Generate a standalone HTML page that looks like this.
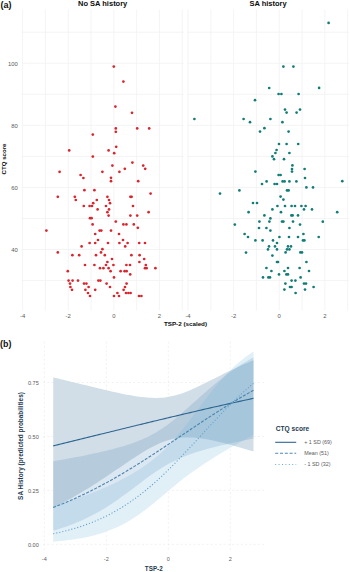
<!DOCTYPE html>
<html><head><meta charset="utf-8"><style>
html,body{margin:0;padding:0;background:#fff;width:350px;height:572px;overflow:hidden}
svg{display:block}
</style></head><body>
<svg width="350" height="572" viewBox="0 0 350 572">
<rect width="350" height="572" fill="#fff"/>
<line x1="22.60" y1="9.5" x2="22.60" y2="310.5" stroke="#f1f1f1" stroke-width="0.8"/>
<line x1="45.40" y1="9.5" x2="45.40" y2="310.5" stroke="#f1f1f1" stroke-width="0.8"/>
<line x1="68.20" y1="9.5" x2="68.20" y2="310.5" stroke="#f1f1f1" stroke-width="0.8"/>
<line x1="91.00" y1="9.5" x2="91.00" y2="310.5" stroke="#f1f1f1" stroke-width="0.8"/>
<line x1="113.80" y1="9.5" x2="113.80" y2="310.5" stroke="#f1f1f1" stroke-width="0.8"/>
<line x1="136.60" y1="9.5" x2="136.60" y2="310.5" stroke="#f1f1f1" stroke-width="0.8"/>
<line x1="159.40" y1="9.5" x2="159.40" y2="310.5" stroke="#f1f1f1" stroke-width="0.8"/>
<line x1="182.20" y1="9.5" x2="182.20" y2="310.5" stroke="#f1f1f1" stroke-width="0.8"/>
<line x1="21.6" y1="280.52" x2="183.7" y2="280.52" stroke="#f1f1f1" stroke-width="0.8"/>
<line x1="21.6" y1="249.48" x2="183.7" y2="249.48" stroke="#f1f1f1" stroke-width="0.8"/>
<line x1="21.6" y1="218.44" x2="183.7" y2="218.44" stroke="#f1f1f1" stroke-width="0.8"/>
<line x1="21.6" y1="187.40" x2="183.7" y2="187.40" stroke="#f1f1f1" stroke-width="0.8"/>
<line x1="21.6" y1="156.36" x2="183.7" y2="156.36" stroke="#f1f1f1" stroke-width="0.8"/>
<line x1="21.6" y1="125.32" x2="183.7" y2="125.32" stroke="#f1f1f1" stroke-width="0.8"/>
<line x1="21.6" y1="94.28" x2="183.7" y2="94.28" stroke="#f1f1f1" stroke-width="0.8"/>
<line x1="21.6" y1="63.24" x2="183.7" y2="63.24" stroke="#f1f1f1" stroke-width="0.8"/>
<line x1="21.6" y1="32.20" x2="183.7" y2="32.20" stroke="#f1f1f1" stroke-width="0.8"/>
<line x1="188.00" y1="9.5" x2="188.00" y2="310.5" stroke="#f1f1f1" stroke-width="0.8"/>
<line x1="210.80" y1="9.5" x2="210.80" y2="310.5" stroke="#f1f1f1" stroke-width="0.8"/>
<line x1="233.60" y1="9.5" x2="233.60" y2="310.5" stroke="#f1f1f1" stroke-width="0.8"/>
<line x1="256.40" y1="9.5" x2="256.40" y2="310.5" stroke="#f1f1f1" stroke-width="0.8"/>
<line x1="279.20" y1="9.5" x2="279.20" y2="310.5" stroke="#f1f1f1" stroke-width="0.8"/>
<line x1="302.00" y1="9.5" x2="302.00" y2="310.5" stroke="#f1f1f1" stroke-width="0.8"/>
<line x1="324.80" y1="9.5" x2="324.80" y2="310.5" stroke="#f1f1f1" stroke-width="0.8"/>
<line x1="347.60" y1="9.5" x2="347.60" y2="310.5" stroke="#f1f1f1" stroke-width="0.8"/>
<line x1="187.0" y1="280.52" x2="349.1" y2="280.52" stroke="#f1f1f1" stroke-width="0.8"/>
<line x1="187.0" y1="249.48" x2="349.1" y2="249.48" stroke="#f1f1f1" stroke-width="0.8"/>
<line x1="187.0" y1="218.44" x2="349.1" y2="218.44" stroke="#f1f1f1" stroke-width="0.8"/>
<line x1="187.0" y1="187.40" x2="349.1" y2="187.40" stroke="#f1f1f1" stroke-width="0.8"/>
<line x1="187.0" y1="156.36" x2="349.1" y2="156.36" stroke="#f1f1f1" stroke-width="0.8"/>
<line x1="187.0" y1="125.32" x2="349.1" y2="125.32" stroke="#f1f1f1" stroke-width="0.8"/>
<line x1="187.0" y1="94.28" x2="349.1" y2="94.28" stroke="#f1f1f1" stroke-width="0.8"/>
<line x1="187.0" y1="63.24" x2="349.1" y2="63.24" stroke="#f1f1f1" stroke-width="0.8"/>
<line x1="187.0" y1="32.20" x2="349.1" y2="32.20" stroke="#f1f1f1" stroke-width="0.8"/>
<text x="17.8" y="252.08" text-anchor="end" font-size="5.9" fill="#5a5a5a" font-family="Liberation Sans, sans-serif">40</text>
<text x="17.8" y="190.00" text-anchor="end" font-size="5.9" fill="#5a5a5a" font-family="Liberation Sans, sans-serif">60</text>
<text x="17.8" y="127.92" text-anchor="end" font-size="5.9" fill="#5a5a5a" font-family="Liberation Sans, sans-serif">80</text>
<text x="17.8" y="65.84" text-anchor="end" font-size="5.9" fill="#5a5a5a" font-family="Liberation Sans, sans-serif">100</text>
<text x="22.60" y="318.4" text-anchor="middle" font-size="5.9" fill="#5a5a5a" font-family="Liberation Sans, sans-serif">-4</text>
<text x="68.20" y="318.4" text-anchor="middle" font-size="5.9" fill="#5a5a5a" font-family="Liberation Sans, sans-serif">-2</text>
<text x="113.80" y="318.4" text-anchor="middle" font-size="5.9" fill="#5a5a5a" font-family="Liberation Sans, sans-serif">0</text>
<text x="159.40" y="318.4" text-anchor="middle" font-size="5.9" fill="#5a5a5a" font-family="Liberation Sans, sans-serif">2</text>
<text x="188.00" y="318.4" text-anchor="middle" font-size="5.9" fill="#5a5a5a" font-family="Liberation Sans, sans-serif">-4</text>
<text x="233.60" y="318.4" text-anchor="middle" font-size="5.9" fill="#5a5a5a" font-family="Liberation Sans, sans-serif">-2</text>
<text x="279.20" y="318.4" text-anchor="middle" font-size="5.9" fill="#5a5a5a" font-family="Liberation Sans, sans-serif">0</text>
<text x="324.80" y="318.4" text-anchor="middle" font-size="5.9" fill="#5a5a5a" font-family="Liberation Sans, sans-serif">2</text>
<text x="102.65" y="5.5" text-anchor="middle" font-size="7.5" font-weight="bold" fill="#0d0d0d" font-family="Liberation Sans, sans-serif">No SA history</text>
<text x="268.05" y="5.5" text-anchor="middle" font-size="7.5" font-weight="bold" fill="#0d0d0d" font-family="Liberation Sans, sans-serif">SA history</text>
<text x="185.5" y="326.3" text-anchor="middle" font-size="6.25" font-weight="bold" fill="#0d0d0d" font-family="Liberation Sans, sans-serif">TSP-2 (scaled)</text>
<text transform="translate(6.3,159) rotate(-90)" text-anchor="middle" font-size="6.1" font-weight="bold" fill="#0d0d0d" font-family="Liberation Sans, sans-serif">CTQ score</text>
<text x="0.5" y="8.2" font-size="9" font-weight="bold" fill="#111" font-family="Liberation Sans, sans-serif">(a)</text>
<circle cx="113.8" cy="66.6" r="1.35" fill="#d8252e"/>
<circle cx="123.4" cy="81.6" r="1.35" fill="#d8252e"/>
<circle cx="115.4" cy="106.6" r="1.35" fill="#d8252e"/>
<circle cx="132" cy="112.8" r="1.35" fill="#d8252e"/>
<circle cx="115.8" cy="128.4" r="1.35" fill="#d8252e"/>
<circle cx="115.8" cy="131.8" r="1.35" fill="#d8252e"/>
<circle cx="137.2" cy="128.4" r="1.35" fill="#d8252e"/>
<circle cx="149.2" cy="128.4" r="1.35" fill="#d8252e"/>
<circle cx="116.2" cy="146.8" r="1.35" fill="#d8252e"/>
<circle cx="108.6" cy="150.4" r="1.35" fill="#d8252e"/>
<circle cx="114.2" cy="153.2" r="1.35" fill="#d8252e"/>
<circle cx="132.4" cy="162.6" r="1.35" fill="#d8252e"/>
<circle cx="112.4" cy="165.6" r="1.35" fill="#d8252e"/>
<circle cx="143.2" cy="165.6" r="1.35" fill="#d8252e"/>
<circle cx="145.2" cy="168.8" r="1.35" fill="#d8252e"/>
<circle cx="124.8" cy="168.8" r="1.35" fill="#d8252e"/>
<circle cx="102.4" cy="171.8" r="1.35" fill="#d8252e"/>
<circle cx="119.4" cy="171.8" r="1.35" fill="#d8252e"/>
<circle cx="111" cy="177.8" r="1.35" fill="#d8252e"/>
<circle cx="111" cy="181.2" r="1.35" fill="#d8252e"/>
<circle cx="138.2" cy="181.2" r="1.35" fill="#d8252e"/>
<circle cx="92.8" cy="134.6" r="1.35" fill="#d8252e"/>
<circle cx="69.2" cy="150.4" r="1.35" fill="#d8252e"/>
<circle cx="92.8" cy="156.6" r="1.35" fill="#d8252e"/>
<circle cx="59.6" cy="171.8" r="1.35" fill="#d8252e"/>
<circle cx="80.6" cy="175" r="1.35" fill="#d8252e"/>
<circle cx="83.4" cy="178" r="1.35" fill="#d8252e"/>
<circle cx="84.4" cy="190.2" r="1.35" fill="#d8252e"/>
<circle cx="94.4" cy="190.2" r="1.35" fill="#d8252e"/>
<circle cx="57.8" cy="196.8" r="1.35" fill="#d8252e"/>
<circle cx="74.8" cy="196.8" r="1.35" fill="#d8252e"/>
<circle cx="75.8" cy="200" r="1.35" fill="#d8252e"/>
<circle cx="96.8" cy="200" r="1.35" fill="#d8252e"/>
<circle cx="93.2" cy="203.2" r="1.35" fill="#d8252e"/>
<circle cx="83.8" cy="206" r="1.35" fill="#d8252e"/>
<circle cx="89.6" cy="206" r="1.35" fill="#d8252e"/>
<circle cx="92" cy="206" r="1.35" fill="#d8252e"/>
<circle cx="97.6" cy="209.4" r="1.35" fill="#d8252e"/>
<circle cx="90" cy="218.2" r="1.35" fill="#d8252e"/>
<circle cx="91.6" cy="218.2" r="1.35" fill="#d8252e"/>
<circle cx="92.6" cy="224.4" r="1.35" fill="#d8252e"/>
<circle cx="46.4" cy="230.6" r="1.35" fill="#d8252e"/>
<circle cx="99.6" cy="230.6" r="1.35" fill="#d8252e"/>
<circle cx="95.2" cy="234" r="1.35" fill="#d8252e"/>
<circle cx="98" cy="240" r="1.35" fill="#d8252e"/>
<circle cx="89.6" cy="243" r="1.35" fill="#d8252e"/>
<circle cx="95.2" cy="243" r="1.35" fill="#d8252e"/>
<circle cx="81.6" cy="246.4" r="1.35" fill="#d8252e"/>
<circle cx="57.8" cy="252.4" r="1.35" fill="#d8252e"/>
<circle cx="72.4" cy="255.2" r="1.35" fill="#d8252e"/>
<circle cx="79.2" cy="255.2" r="1.35" fill="#d8252e"/>
<circle cx="96" cy="255.2" r="1.35" fill="#d8252e"/>
<circle cx="150.6" cy="193.6" r="1.35" fill="#d8252e"/>
<circle cx="107.4" cy="196.8" r="1.35" fill="#d8252e"/>
<circle cx="130.4" cy="196.8" r="1.35" fill="#d8252e"/>
<circle cx="131.6" cy="196.8" r="1.35" fill="#d8252e"/>
<circle cx="109" cy="200" r="1.35" fill="#d8252e"/>
<circle cx="110" cy="203.2" r="1.35" fill="#d8252e"/>
<circle cx="106" cy="206" r="1.35" fill="#d8252e"/>
<circle cx="133" cy="206" r="1.35" fill="#d8252e"/>
<circle cx="109" cy="209.4" r="1.35" fill="#d8252e"/>
<circle cx="107.4" cy="212.2" r="1.35" fill="#d8252e"/>
<circle cx="148.6" cy="212.2" r="1.35" fill="#d8252e"/>
<circle cx="108.6" cy="215.6" r="1.35" fill="#d8252e"/>
<circle cx="130.4" cy="215.6" r="1.35" fill="#d8252e"/>
<circle cx="137.2" cy="215.6" r="1.35" fill="#d8252e"/>
<circle cx="115.8" cy="221.6" r="1.35" fill="#d8252e"/>
<circle cx="123.4" cy="224.4" r="1.35" fill="#d8252e"/>
<circle cx="126.4" cy="224.4" r="1.35" fill="#d8252e"/>
<circle cx="133.8" cy="224.4" r="1.35" fill="#d8252e"/>
<circle cx="137.8" cy="227.8" r="1.35" fill="#d8252e"/>
<circle cx="101.3" cy="230.6" r="1.35" fill="#d8252e"/>
<circle cx="111" cy="230.6" r="1.35" fill="#d8252e"/>
<circle cx="119" cy="234" r="1.35" fill="#d8252e"/>
<circle cx="123" cy="240" r="1.35" fill="#d8252e"/>
<circle cx="108" cy="243" r="1.35" fill="#d8252e"/>
<circle cx="119.4" cy="243" r="1.35" fill="#d8252e"/>
<circle cx="127.6" cy="243" r="1.35" fill="#d8252e"/>
<circle cx="139.2" cy="243" r="1.35" fill="#d8252e"/>
<circle cx="145" cy="243" r="1.35" fill="#d8252e"/>
<circle cx="125.2" cy="246.4" r="1.35" fill="#d8252e"/>
<circle cx="102.4" cy="249.2" r="1.35" fill="#d8252e"/>
<circle cx="101" cy="252.4" r="1.35" fill="#d8252e"/>
<circle cx="104.8" cy="255.2" r="1.35" fill="#d8252e"/>
<circle cx="131.4" cy="255.2" r="1.35" fill="#d8252e"/>
<circle cx="139.6" cy="255.2" r="1.35" fill="#d8252e"/>
<circle cx="85" cy="265" r="1.35" fill="#d8252e"/>
<circle cx="94.4" cy="265" r="1.35" fill="#d8252e"/>
<circle cx="67.8" cy="271.2" r="1.35" fill="#d8252e"/>
<circle cx="68.6" cy="280.6" r="1.35" fill="#d8252e"/>
<circle cx="72.6" cy="280.6" r="1.35" fill="#d8252e"/>
<circle cx="78" cy="280.6" r="1.35" fill="#d8252e"/>
<circle cx="98.4" cy="280.6" r="1.35" fill="#d8252e"/>
<circle cx="70" cy="283.6" r="1.35" fill="#d8252e"/>
<circle cx="84" cy="283.6" r="1.35" fill="#d8252e"/>
<circle cx="86.4" cy="283.6" r="1.35" fill="#d8252e"/>
<circle cx="70.4" cy="287" r="1.35" fill="#d8252e"/>
<circle cx="88.6" cy="287" r="1.35" fill="#d8252e"/>
<circle cx="72" cy="289.8" r="1.35" fill="#d8252e"/>
<circle cx="85.4" cy="289.8" r="1.35" fill="#d8252e"/>
<circle cx="95.2" cy="289.8" r="1.35" fill="#d8252e"/>
<circle cx="88" cy="293" r="1.35" fill="#d8252e"/>
<circle cx="90" cy="296" r="1.35" fill="#d8252e"/>
<circle cx="112" cy="259" r="1.35" fill="#d8252e"/>
<circle cx="144.2" cy="259" r="1.35" fill="#d8252e"/>
<circle cx="107.4" cy="262" r="1.35" fill="#d8252e"/>
<circle cx="139.4" cy="262" r="1.35" fill="#d8252e"/>
<circle cx="106" cy="265" r="1.35" fill="#d8252e"/>
<circle cx="113.4" cy="265" r="1.35" fill="#d8252e"/>
<circle cx="126.4" cy="265" r="1.35" fill="#d8252e"/>
<circle cx="130" cy="265" r="1.35" fill="#d8252e"/>
<circle cx="145.8" cy="265" r="1.35" fill="#d8252e"/>
<circle cx="100" cy="268.2" r="1.35" fill="#d8252e"/>
<circle cx="103.4" cy="268.2" r="1.35" fill="#d8252e"/>
<circle cx="108.6" cy="268.2" r="1.35" fill="#d8252e"/>
<circle cx="145" cy="268.2" r="1.35" fill="#d8252e"/>
<circle cx="146.6" cy="268.2" r="1.35" fill="#d8252e"/>
<circle cx="155.4" cy="268.2" r="1.35" fill="#d8252e"/>
<circle cx="110.6" cy="271.2" r="1.35" fill="#d8252e"/>
<circle cx="120.6" cy="271.2" r="1.35" fill="#d8252e"/>
<circle cx="124.6" cy="271.2" r="1.35" fill="#d8252e"/>
<circle cx="126.6" cy="271.2" r="1.35" fill="#d8252e"/>
<circle cx="130.2" cy="274.4" r="1.35" fill="#d8252e"/>
<circle cx="114" cy="277.4" r="1.35" fill="#d8252e"/>
<circle cx="100.4" cy="280.6" r="1.35" fill="#d8252e"/>
<circle cx="106.6" cy="283.6" r="1.35" fill="#d8252e"/>
<circle cx="126.6" cy="283.6" r="1.35" fill="#d8252e"/>
<circle cx="110" cy="287" r="1.35" fill="#d8252e"/>
<circle cx="125" cy="287" r="1.35" fill="#d8252e"/>
<circle cx="123.6" cy="289.8" r="1.35" fill="#d8252e"/>
<circle cx="117.4" cy="293" r="1.35" fill="#d8252e"/>
<circle cx="126" cy="293" r="1.35" fill="#d8252e"/>
<circle cx="128.4" cy="293" r="1.35" fill="#d8252e"/>
<circle cx="130.6" cy="293" r="1.35" fill="#d8252e"/>
<circle cx="114" cy="296" r="1.35" fill="#d8252e"/>
<circle cx="119" cy="296" r="1.35" fill="#d8252e"/>
<circle cx="139" cy="296" r="1.35" fill="#d8252e"/>
<circle cx="141.4" cy="296" r="1.35" fill="#d8252e"/>
<circle cx="283.4" cy="66.6" r="1.35" fill="#127c76"/>
<circle cx="293.4" cy="66.6" r="1.35" fill="#127c76"/>
<circle cx="328.6" cy="22.9" r="1.35" fill="#127c76"/>
<circle cx="319.1" cy="87.9" r="1.35" fill="#127c76"/>
<circle cx="194.4" cy="119" r="1.35" fill="#127c76"/>
<circle cx="243.6" cy="119" r="1.35" fill="#127c76"/>
<circle cx="269.2" cy="88" r="1.35" fill="#127c76"/>
<circle cx="278.6" cy="94" r="1.35" fill="#127c76"/>
<circle cx="281.4" cy="94" r="1.35" fill="#127c76"/>
<circle cx="298.6" cy="94" r="1.35" fill="#127c76"/>
<circle cx="255" cy="100.2" r="1.35" fill="#127c76"/>
<circle cx="285" cy="109.6" r="1.35" fill="#127c76"/>
<circle cx="286.6" cy="112.6" r="1.35" fill="#127c76"/>
<circle cx="296.6" cy="112.6" r="1.35" fill="#127c76"/>
<circle cx="300" cy="109.6" r="1.35" fill="#127c76"/>
<circle cx="270.4" cy="119" r="1.35" fill="#127c76"/>
<circle cx="250" cy="122.2" r="1.35" fill="#127c76"/>
<circle cx="282.4" cy="122.2" r="1.35" fill="#127c76"/>
<circle cx="264.4" cy="128.2" r="1.35" fill="#127c76"/>
<circle cx="260" cy="131.6" r="1.35" fill="#127c76"/>
<circle cx="288.6" cy="131.6" r="1.35" fill="#127c76"/>
<circle cx="279" cy="144" r="1.35" fill="#127c76"/>
<circle cx="286.6" cy="144" r="1.35" fill="#127c76"/>
<circle cx="298.2" cy="144" r="1.35" fill="#127c76"/>
<circle cx="276.6" cy="150" r="1.35" fill="#127c76"/>
<circle cx="275.4" cy="153" r="1.35" fill="#127c76"/>
<circle cx="289.4" cy="153" r="1.35" fill="#127c76"/>
<circle cx="220" cy="193.6" r="1.35" fill="#127c76"/>
<circle cx="239.4" cy="190.4" r="1.35" fill="#127c76"/>
<circle cx="248.6" cy="212.2" r="1.35" fill="#127c76"/>
<circle cx="272.4" cy="156.4" r="1.35" fill="#127c76"/>
<circle cx="274" cy="159.2" r="1.35" fill="#127c76"/>
<circle cx="284" cy="159.2" r="1.35" fill="#127c76"/>
<circle cx="292.4" cy="165.4" r="1.35" fill="#127c76"/>
<circle cx="292" cy="169" r="1.35" fill="#127c76"/>
<circle cx="292" cy="171.6" r="1.35" fill="#127c76"/>
<circle cx="304.6" cy="169" r="1.35" fill="#127c76"/>
<circle cx="255.4" cy="171.6" r="1.35" fill="#127c76"/>
<circle cx="278.6" cy="175" r="1.35" fill="#127c76"/>
<circle cx="280.6" cy="175" r="1.35" fill="#127c76"/>
<circle cx="305" cy="178" r="1.35" fill="#127c76"/>
<circle cx="266.6" cy="181.4" r="1.35" fill="#127c76"/>
<circle cx="282.6" cy="181.4" r="1.35" fill="#127c76"/>
<circle cx="284.6" cy="181.4" r="1.35" fill="#127c76"/>
<circle cx="289.4" cy="181.4" r="1.35" fill="#127c76"/>
<circle cx="296.4" cy="181.4" r="1.35" fill="#127c76"/>
<circle cx="262" cy="184" r="1.35" fill="#127c76"/>
<circle cx="274.6" cy="184" r="1.35" fill="#127c76"/>
<circle cx="277" cy="184" r="1.35" fill="#127c76"/>
<circle cx="306.4" cy="187.4" r="1.35" fill="#127c76"/>
<circle cx="313" cy="187.4" r="1.35" fill="#127c76"/>
<circle cx="287" cy="190.4" r="1.35" fill="#127c76"/>
<circle cx="288.6" cy="190.4" r="1.35" fill="#127c76"/>
<circle cx="280.6" cy="196.6" r="1.35" fill="#127c76"/>
<circle cx="283.4" cy="199.6" r="1.35" fill="#127c76"/>
<circle cx="253" cy="203" r="1.35" fill="#127c76"/>
<circle cx="257" cy="203" r="1.35" fill="#127c76"/>
<circle cx="277.4" cy="206" r="1.35" fill="#127c76"/>
<circle cx="285" cy="206" r="1.35" fill="#127c76"/>
<circle cx="291.6" cy="206" r="1.35" fill="#127c76"/>
<circle cx="295" cy="206" r="1.35" fill="#127c76"/>
<circle cx="301.4" cy="206" r="1.35" fill="#127c76"/>
<circle cx="305.6" cy="206" r="1.35" fill="#127c76"/>
<circle cx="272.4" cy="209.4" r="1.35" fill="#127c76"/>
<circle cx="304" cy="209.4" r="1.35" fill="#127c76"/>
<circle cx="312" cy="209.4" r="1.35" fill="#127c76"/>
<circle cx="281" cy="212.2" r="1.35" fill="#127c76"/>
<circle cx="264.4" cy="215.4" r="1.35" fill="#127c76"/>
<circle cx="291.4" cy="215.4" r="1.35" fill="#127c76"/>
<circle cx="292.6" cy="215.4" r="1.35" fill="#127c76"/>
<circle cx="298" cy="215.4" r="1.35" fill="#127c76"/>
<circle cx="270.4" cy="218.4" r="1.35" fill="#127c76"/>
<circle cx="342.3" cy="181.2" r="1.35" fill="#127c76"/>
<circle cx="337.2" cy="212.2" r="1.35" fill="#127c76"/>
<circle cx="322.8" cy="221.7" r="1.35" fill="#127c76"/>
<circle cx="234.8" cy="224.6" r="1.35" fill="#127c76"/>
<circle cx="244.6" cy="234" r="1.35" fill="#127c76"/>
<circle cx="248" cy="237" r="1.35" fill="#127c76"/>
<circle cx="246" cy="252.6" r="1.35" fill="#127c76"/>
<circle cx="259.4" cy="221.6" r="1.35" fill="#127c76"/>
<circle cx="269.4" cy="221.6" r="1.35" fill="#127c76"/>
<circle cx="282" cy="221.6" r="1.35" fill="#127c76"/>
<circle cx="283.4" cy="221.6" r="1.35" fill="#127c76"/>
<circle cx="293" cy="221.6" r="1.35" fill="#127c76"/>
<circle cx="300" cy="224.6" r="1.35" fill="#127c76"/>
<circle cx="259" cy="228" r="1.35" fill="#127c76"/>
<circle cx="266.4" cy="228" r="1.35" fill="#127c76"/>
<circle cx="289.4" cy="228" r="1.35" fill="#127c76"/>
<circle cx="270.4" cy="230.6" r="1.35" fill="#127c76"/>
<circle cx="279.4" cy="237" r="1.35" fill="#127c76"/>
<circle cx="289" cy="237" r="1.35" fill="#127c76"/>
<circle cx="298" cy="237" r="1.35" fill="#127c76"/>
<circle cx="303.4" cy="234" r="1.35" fill="#127c76"/>
<circle cx="255.4" cy="240.4" r="1.35" fill="#127c76"/>
<circle cx="262.6" cy="240.4" r="1.35" fill="#127c76"/>
<circle cx="273" cy="240.4" r="1.35" fill="#127c76"/>
<circle cx="303" cy="240.4" r="1.35" fill="#127c76"/>
<circle cx="304.4" cy="240.4" r="1.35" fill="#127c76"/>
<circle cx="277" cy="243" r="1.35" fill="#127c76"/>
<circle cx="269" cy="246.4" r="1.35" fill="#127c76"/>
<circle cx="275" cy="246.4" r="1.35" fill="#127c76"/>
<circle cx="288" cy="246.4" r="1.35" fill="#127c76"/>
<circle cx="291" cy="246.4" r="1.35" fill="#127c76"/>
<circle cx="268" cy="249.4" r="1.35" fill="#127c76"/>
<circle cx="277" cy="249.4" r="1.35" fill="#127c76"/>
<circle cx="287" cy="249.4" r="1.35" fill="#127c76"/>
<circle cx="289.4" cy="249.4" r="1.35" fill="#127c76"/>
<circle cx="285.6" cy="252.4" r="1.35" fill="#127c76"/>
<circle cx="300.4" cy="252.4" r="1.35" fill="#127c76"/>
<circle cx="302" cy="252.4" r="1.35" fill="#127c76"/>
<circle cx="272.4" cy="255.6" r="1.35" fill="#127c76"/>
<circle cx="277" cy="262" r="1.35" fill="#127c76"/>
<circle cx="278" cy="262" r="1.35" fill="#127c76"/>
<circle cx="306.4" cy="262" r="1.35" fill="#127c76"/>
<circle cx="266.4" cy="268" r="1.35" fill="#127c76"/>
<circle cx="288" cy="268" r="1.35" fill="#127c76"/>
<circle cx="299.6" cy="268" r="1.35" fill="#127c76"/>
<circle cx="271.4" cy="271" r="1.35" fill="#127c76"/>
<circle cx="284.4" cy="271" r="1.35" fill="#127c76"/>
<circle cx="309" cy="271" r="1.35" fill="#127c76"/>
<circle cx="279" cy="274.4" r="1.35" fill="#127c76"/>
<circle cx="286.4" cy="274.4" r="1.35" fill="#127c76"/>
<circle cx="288" cy="274.4" r="1.35" fill="#127c76"/>
<circle cx="263" cy="277.4" r="1.35" fill="#127c76"/>
<circle cx="268.4" cy="277.4" r="1.35" fill="#127c76"/>
<circle cx="270" cy="277.4" r="1.35" fill="#127c76"/>
<circle cx="300.6" cy="277.4" r="1.35" fill="#127c76"/>
<circle cx="291.6" cy="280.6" r="1.35" fill="#127c76"/>
<circle cx="295.4" cy="280.6" r="1.35" fill="#127c76"/>
<circle cx="285.4" cy="283.6" r="1.35" fill="#127c76"/>
<circle cx="304" cy="283.6" r="1.35" fill="#127c76"/>
<circle cx="306" cy="283.6" r="1.35" fill="#127c76"/>
<circle cx="290" cy="287" r="1.35" fill="#127c76"/>
<circle cx="291.6" cy="287" r="1.35" fill="#127c76"/>
<circle cx="313.6" cy="287" r="1.35" fill="#127c76"/>
<circle cx="284.4" cy="289.6" r="1.35" fill="#127c76"/>
<circle cx="305" cy="289.6" r="1.35" fill="#127c76"/>
<circle cx="295.6" cy="293" r="1.35" fill="#127c76"/>
<circle cx="318.7" cy="237" r="1.35" fill="#127c76"/>
<line x1="44.30" y1="341.5" x2="44.30" y2="551.5" stroke="#e8e8e8" stroke-width="0.6" stroke-dasharray="2,2.3"/>
<line x1="106.30" y1="341.5" x2="106.30" y2="551.5" stroke="#e8e8e8" stroke-width="0.6" stroke-dasharray="2,2.3"/>
<line x1="168.30" y1="341.5" x2="168.30" y2="551.5" stroke="#e8e8e8" stroke-width="0.6" stroke-dasharray="2,2.3"/>
<line x1="230.30" y1="341.5" x2="230.30" y2="551.5" stroke="#e8e8e8" stroke-width="0.6" stroke-dasharray="2,2.3"/>
<line x1="43.0" y1="544.30" x2="264.0" y2="544.30" stroke="#e8e8e8" stroke-width="0.6" stroke-dasharray="2,2.3"/>
<line x1="43.0" y1="490.37" x2="264.0" y2="490.37" stroke="#e8e8e8" stroke-width="0.6" stroke-dasharray="2,2.3"/>
<line x1="43.0" y1="436.45" x2="264.0" y2="436.45" stroke="#e8e8e8" stroke-width="0.6" stroke-dasharray="2,2.3"/>
<line x1="43.0" y1="382.52" x2="264.0" y2="382.52" stroke="#e8e8e8" stroke-width="0.6" stroke-dasharray="2,2.3"/>
<polygon points="53.20,377.39 55.73,377.99 58.27,378.60 60.80,379.20 63.34,379.81 65.87,380.42 68.41,381.04 70.94,381.65 73.48,382.27 76.01,382.89 78.55,383.51 81.09,384.13 83.62,384.75 86.16,385.37 88.69,385.99 91.23,386.61 93.76,387.23 96.30,387.84 98.83,388.45 101.37,389.06 103.90,389.66 106.44,390.25 108.97,390.84 111.51,391.42 114.04,391.99 116.58,392.55 119.12,393.10 121.65,393.63 124.19,394.15 126.72,394.64 129.26,395.12 131.79,395.57 134.33,395.99 136.86,396.39 139.40,396.75 141.93,397.07 144.47,397.35 147.00,397.57 149.54,397.75 152.07,397.87 154.61,397.92 157.15,397.90 159.68,397.81 162.22,397.64 164.75,397.38 167.29,397.04 169.82,396.60 172.36,396.08 174.89,395.47 177.43,394.77 179.96,393.99 182.50,393.13 185.03,392.20 187.57,391.21 190.10,390.16 192.64,389.05 195.18,387.91 197.71,386.73 200.25,385.51 202.78,384.28 205.32,383.02 207.85,381.76 210.39,380.48 212.92,379.20 215.46,377.92 217.99,376.65 220.53,375.38 223.06,374.12 225.60,372.87 228.13,371.63 230.67,370.41 233.21,369.21 235.74,368.03 238.28,366.86 240.81,365.71 243.35,364.59 245.88,363.49 248.42,362.41 250.95,361.35 253.49,360.32 253.49,451.49 250.95,450.72 248.42,449.95 245.88,449.19 243.35,448.44 240.81,447.70 238.28,446.97 235.74,446.25 233.21,445.54 230.67,444.84 228.13,444.16 225.60,443.50 223.06,442.86 220.53,442.23 217.99,441.63 215.46,441.05 212.92,440.50 210.39,439.99 207.85,439.50 205.32,439.06 202.78,438.66 200.25,438.30 197.71,438.00 195.18,437.75 192.64,437.57 190.10,437.46 187.57,437.42 185.03,437.47 182.50,437.60 179.96,437.83 177.43,438.16 174.89,438.59 172.36,439.12 169.82,439.76 167.29,440.51 164.75,441.36 162.22,442.31 159.68,443.35 157.15,444.49 154.61,445.71 152.07,447.00 149.54,448.37 147.00,449.80 144.47,451.28 141.93,452.82 139.40,454.39 136.86,456.01 134.33,457.65 131.79,459.32 129.26,461.01 126.72,462.71 124.19,464.43 121.65,466.16 119.12,467.89 116.58,469.62 114.04,471.34 111.51,473.07 108.97,474.78 106.44,476.49 103.90,478.18 101.37,479.86 98.83,481.53 96.30,483.17 93.76,484.80 91.23,486.41 88.69,487.99 86.16,489.55 83.62,491.09 81.09,492.61 78.55,494.09 76.01,495.56 73.48,496.99 70.94,498.40 68.41,499.78 65.87,501.13 63.34,502.45 60.80,503.74 58.27,505.01 55.73,506.24 53.20,507.45" fill="#fff"/>
<polygon points="53.20,461.26 55.73,460.82 58.27,460.37 60.80,459.92 63.34,459.47 65.87,459.01 68.41,458.55 70.94,458.08 73.48,457.60 76.01,457.12 78.55,456.64 81.09,456.14 83.62,455.64 86.16,455.13 88.69,454.61 91.23,454.08 93.76,453.54 96.30,452.99 98.83,452.43 101.37,451.86 103.90,451.27 106.44,450.67 108.97,450.05 111.51,449.41 114.04,448.75 116.58,448.07 119.12,447.37 121.65,446.64 124.19,445.88 126.72,445.09 129.26,444.26 131.79,443.39 134.33,442.49 136.86,441.53 139.40,440.52 141.93,439.46 144.47,438.34 147.00,437.15 149.54,435.89 152.07,434.56 154.61,433.15 157.15,431.66 159.68,430.08 162.22,428.43 164.75,426.69 167.29,424.88 169.82,422.99 172.36,421.02 174.89,418.99 177.43,416.90 179.96,414.77 182.50,412.58 185.03,410.36 187.57,408.12 190.10,405.85 192.64,403.57 195.18,401.28 197.71,399.00 200.25,396.72 202.78,394.46 205.32,392.22 207.85,390.00 210.39,387.81 212.92,385.65 215.46,383.53 217.99,381.45 220.53,379.41 223.06,377.42 225.60,375.47 228.13,373.57 230.67,371.73 233.21,369.93 235.74,368.18 238.28,366.49 240.81,364.85 243.35,363.27 245.88,361.73 248.42,360.25 250.95,358.82 253.49,357.45 253.49,438.61 250.95,439.10 248.42,439.60 245.88,440.11 243.35,440.62 240.81,441.14 238.28,441.66 235.74,442.19 233.21,442.73 230.67,443.28 228.13,443.84 225.60,444.42 223.06,445.00 220.53,445.59 217.99,446.20 215.46,446.82 212.92,447.47 210.39,448.12 207.85,448.80 205.32,449.50 202.78,450.23 200.25,450.98 197.71,451.76 195.18,452.57 192.64,453.42 190.10,454.30 187.57,455.23 185.03,456.20 182.50,457.23 179.96,458.30 177.43,459.44 174.89,460.63 172.36,461.89 169.82,463.21 167.29,464.61 164.75,466.06 162.22,467.59 159.68,469.18 157.15,470.83 154.61,472.54 152.07,474.30 149.54,476.11 147.00,477.95 144.47,479.82 141.93,481.72 139.40,483.63 136.86,485.55 134.33,487.47 131.79,489.38 129.26,491.29 126.72,493.17 124.19,495.03 121.65,496.87 119.12,498.68 116.58,500.45 114.04,502.18 111.51,503.88 108.97,505.53 106.44,507.14 103.90,508.70 101.37,510.22 98.83,511.70 96.30,513.12 93.76,514.50 91.23,515.84 88.69,517.12 86.16,518.36 83.62,519.56 81.09,520.70 78.55,521.81 76.01,522.87 73.48,523.89 70.94,524.86 68.41,525.80 65.87,526.69 63.34,527.55 60.80,528.37 58.27,529.16 55.73,529.91 53.20,530.62" fill="#fff"/>
<polygon points="53.20,506.15 55.73,505.39 58.27,504.62 60.80,503.84 63.34,503.04 65.87,502.23 68.41,501.40 70.94,500.56 73.48,499.70 76.01,498.83 78.55,497.94 81.09,497.03 83.62,496.10 86.16,495.16 88.69,494.20 91.23,493.21 93.76,492.21 96.30,491.19 98.83,490.15 101.37,489.08 103.90,487.99 106.44,486.88 108.97,485.74 111.51,484.57 114.04,483.38 116.58,482.15 119.12,480.90 121.65,479.61 124.19,478.28 126.72,476.92 129.26,475.51 131.79,474.06 134.33,472.56 136.86,471.01 139.40,469.41 141.93,467.74 144.47,466.02 147.00,464.22 149.54,462.35 152.07,460.39 154.61,458.36 157.15,456.23 159.68,454.01 162.22,451.68 164.75,449.26 167.29,446.73 169.82,444.09 172.36,441.35 174.89,438.51 177.43,435.57 179.96,432.54 182.50,429.42 185.03,426.23 187.57,422.98 190.10,419.67 192.64,416.33 195.18,412.97 197.71,409.59 200.25,406.22 202.78,402.86 205.32,399.53 207.85,396.24 210.39,393.00 212.92,389.82 215.46,386.71 217.99,383.68 220.53,380.73 223.06,377.88 225.60,375.12 228.13,372.47 230.67,369.91 233.21,367.46 235.74,365.12 238.28,362.88 240.81,360.75 243.35,358.72 245.88,356.79 248.42,354.97 250.95,353.24 253.49,351.61 253.49,434.87 250.95,436.24 248.42,437.61 245.88,439.00 243.35,440.40 240.81,441.81 238.28,443.22 235.74,444.65 233.21,446.10 230.67,447.55 228.13,449.02 225.60,450.50 223.06,452.00 220.53,453.51 217.99,455.04 215.46,456.59 212.92,458.16 210.39,459.76 207.85,461.38 205.32,463.02 202.78,464.69 200.25,466.39 197.71,468.13 195.18,469.90 192.64,471.70 190.10,473.54 187.57,475.42 185.03,477.34 182.50,479.30 179.96,481.30 177.43,483.33 174.89,485.40 172.36,487.49 169.82,489.62 167.29,491.75 164.75,493.90 162.22,496.06 159.68,498.20 157.15,500.33 154.61,502.44 152.07,504.52 149.54,506.55 147.00,508.54 144.47,510.48 141.93,512.36 139.40,514.18 136.86,515.93 134.33,517.62 131.79,519.23 129.26,520.77 126.72,522.24 124.19,523.64 121.65,524.97 119.12,526.22 116.58,527.41 114.04,528.54 111.51,529.60 108.97,530.59 106.44,531.53 103.90,532.41 101.37,533.24 98.83,534.01 96.30,534.73 93.76,535.41 91.23,536.04 88.69,536.63 86.16,537.18 83.62,537.69 81.09,538.17 78.55,538.62 76.01,539.03 73.48,539.42 70.94,539.78 68.41,540.11 65.87,540.42 63.34,540.70 60.80,540.97 58.27,541.22 55.73,541.45 53.20,541.66" fill="#fff"/>
<polygon points="53.20,377.39 55.73,377.99 58.27,378.60 60.80,379.20 63.34,379.81 65.87,380.42 68.41,381.04 70.94,381.65 73.48,382.27 76.01,382.89 78.55,383.51 81.09,384.13 83.62,384.75 86.16,385.37 88.69,385.99 91.23,386.61 93.76,387.23 96.30,387.84 98.83,388.45 101.37,389.06 103.90,389.66 106.44,390.25 108.97,390.84 111.51,391.42 114.04,391.99 116.58,392.55 119.12,393.10 121.65,393.63 124.19,394.15 126.72,394.64 129.26,395.12 131.79,395.57 134.33,395.99 136.86,396.39 139.40,396.75 141.93,397.07 144.47,397.35 147.00,397.57 149.54,397.75 152.07,397.87 154.61,397.92 157.15,397.90 159.68,397.81 162.22,397.64 164.75,397.38 167.29,397.04 169.82,396.60 172.36,396.08 174.89,395.47 177.43,394.77 179.96,393.99 182.50,393.13 185.03,392.20 187.57,391.21 190.10,390.16 192.64,389.05 195.18,387.91 197.71,386.73 200.25,385.51 202.78,384.28 205.32,383.02 207.85,381.76 210.39,380.48 212.92,379.20 215.46,377.92 217.99,376.65 220.53,375.38 223.06,374.12 225.60,372.87 228.13,371.63 230.67,370.41 233.21,369.21 235.74,368.03 238.28,366.86 240.81,365.71 243.35,364.59 245.88,363.49 248.42,362.41 250.95,361.35 253.49,360.32 253.49,451.49 250.95,450.72 248.42,449.95 245.88,449.19 243.35,448.44 240.81,447.70 238.28,446.97 235.74,446.25 233.21,445.54 230.67,444.84 228.13,444.16 225.60,443.50 223.06,442.86 220.53,442.23 217.99,441.63 215.46,441.05 212.92,440.50 210.39,439.99 207.85,439.50 205.32,439.06 202.78,438.66 200.25,438.30 197.71,438.00 195.18,437.75 192.64,437.57 190.10,437.46 187.57,437.42 185.03,437.47 182.50,437.60 179.96,437.83 177.43,438.16 174.89,438.59 172.36,439.12 169.82,439.76 167.29,440.51 164.75,441.36 162.22,442.31 159.68,443.35 157.15,444.49 154.61,445.71 152.07,447.00 149.54,448.37 147.00,449.80 144.47,451.28 141.93,452.82 139.40,454.39 136.86,456.01 134.33,457.65 131.79,459.32 129.26,461.01 126.72,462.71 124.19,464.43 121.65,466.16 119.12,467.89 116.58,469.62 114.04,471.34 111.51,473.07 108.97,474.78 106.44,476.49 103.90,478.18 101.37,479.86 98.83,481.53 96.30,483.17 93.76,484.80 91.23,486.41 88.69,487.99 86.16,489.55 83.62,491.09 81.09,492.61 78.55,494.09 76.01,495.56 73.48,496.99 70.94,498.40 68.41,499.78 65.87,501.13 63.34,502.45 60.80,503.74 58.27,505.01 55.73,506.24 53.20,507.45" fill="#1a5c88" fill-opacity="0.2"/>
<polygon points="53.20,461.26 55.73,460.82 58.27,460.37 60.80,459.92 63.34,459.47 65.87,459.01 68.41,458.55 70.94,458.08 73.48,457.60 76.01,457.12 78.55,456.64 81.09,456.14 83.62,455.64 86.16,455.13 88.69,454.61 91.23,454.08 93.76,453.54 96.30,452.99 98.83,452.43 101.37,451.86 103.90,451.27 106.44,450.67 108.97,450.05 111.51,449.41 114.04,448.75 116.58,448.07 119.12,447.37 121.65,446.64 124.19,445.88 126.72,445.09 129.26,444.26 131.79,443.39 134.33,442.49 136.86,441.53 139.40,440.52 141.93,439.46 144.47,438.34 147.00,437.15 149.54,435.89 152.07,434.56 154.61,433.15 157.15,431.66 159.68,430.08 162.22,428.43 164.75,426.69 167.29,424.88 169.82,422.99 172.36,421.02 174.89,418.99 177.43,416.90 179.96,414.77 182.50,412.58 185.03,410.36 187.57,408.12 190.10,405.85 192.64,403.57 195.18,401.28 197.71,399.00 200.25,396.72 202.78,394.46 205.32,392.22 207.85,390.00 210.39,387.81 212.92,385.65 215.46,383.53 217.99,381.45 220.53,379.41 223.06,377.42 225.60,375.47 228.13,373.57 230.67,371.73 233.21,369.93 235.74,368.18 238.28,366.49 240.81,364.85 243.35,363.27 245.88,361.73 248.42,360.25 250.95,358.82 253.49,357.45 253.49,438.61 250.95,439.10 248.42,439.60 245.88,440.11 243.35,440.62 240.81,441.14 238.28,441.66 235.74,442.19 233.21,442.73 230.67,443.28 228.13,443.84 225.60,444.42 223.06,445.00 220.53,445.59 217.99,446.20 215.46,446.82 212.92,447.47 210.39,448.12 207.85,448.80 205.32,449.50 202.78,450.23 200.25,450.98 197.71,451.76 195.18,452.57 192.64,453.42 190.10,454.30 187.57,455.23 185.03,456.20 182.50,457.23 179.96,458.30 177.43,459.44 174.89,460.63 172.36,461.89 169.82,463.21 167.29,464.61 164.75,466.06 162.22,467.59 159.68,469.18 157.15,470.83 154.61,472.54 152.07,474.30 149.54,476.11 147.00,477.95 144.47,479.82 141.93,481.72 139.40,483.63 136.86,485.55 134.33,487.47 131.79,489.38 129.26,491.29 126.72,493.17 124.19,495.03 121.65,496.87 119.12,498.68 116.58,500.45 114.04,502.18 111.51,503.88 108.97,505.53 106.44,507.14 103.90,508.70 101.37,510.22 98.83,511.70 96.30,513.12 93.76,514.50 91.23,515.84 88.69,517.12 86.16,518.36 83.62,519.56 81.09,520.70 78.55,521.81 76.01,522.87 73.48,523.89 70.94,524.86 68.41,525.80 65.87,526.69 63.34,527.55 60.80,528.37 58.27,529.16 55.73,529.91 53.20,530.62" fill="#4a88b8" fill-opacity="0.2"/>
<polygon points="53.20,506.15 55.73,505.39 58.27,504.62 60.80,503.84 63.34,503.04 65.87,502.23 68.41,501.40 70.94,500.56 73.48,499.70 76.01,498.83 78.55,497.94 81.09,497.03 83.62,496.10 86.16,495.16 88.69,494.20 91.23,493.21 93.76,492.21 96.30,491.19 98.83,490.15 101.37,489.08 103.90,487.99 106.44,486.88 108.97,485.74 111.51,484.57 114.04,483.38 116.58,482.15 119.12,480.90 121.65,479.61 124.19,478.28 126.72,476.92 129.26,475.51 131.79,474.06 134.33,472.56 136.86,471.01 139.40,469.41 141.93,467.74 144.47,466.02 147.00,464.22 149.54,462.35 152.07,460.39 154.61,458.36 157.15,456.23 159.68,454.01 162.22,451.68 164.75,449.26 167.29,446.73 169.82,444.09 172.36,441.35 174.89,438.51 177.43,435.57 179.96,432.54 182.50,429.42 185.03,426.23 187.57,422.98 190.10,419.67 192.64,416.33 195.18,412.97 197.71,409.59 200.25,406.22 202.78,402.86 205.32,399.53 207.85,396.24 210.39,393.00 212.92,389.82 215.46,386.71 217.99,383.68 220.53,380.73 223.06,377.88 225.60,375.12 228.13,372.47 230.67,369.91 233.21,367.46 235.74,365.12 238.28,362.88 240.81,360.75 243.35,358.72 245.88,356.79 248.42,354.97 250.95,353.24 253.49,351.61 253.49,434.87 250.95,436.24 248.42,437.61 245.88,439.00 243.35,440.40 240.81,441.81 238.28,443.22 235.74,444.65 233.21,446.10 230.67,447.55 228.13,449.02 225.60,450.50 223.06,452.00 220.53,453.51 217.99,455.04 215.46,456.59 212.92,458.16 210.39,459.76 207.85,461.38 205.32,463.02 202.78,464.69 200.25,466.39 197.71,468.13 195.18,469.90 192.64,471.70 190.10,473.54 187.57,475.42 185.03,477.34 182.50,479.30 179.96,481.30 177.43,483.33 174.89,485.40 172.36,487.49 169.82,489.62 167.29,491.75 164.75,493.90 162.22,496.06 159.68,498.20 157.15,500.33 154.61,502.44 152.07,504.52 149.54,506.55 147.00,508.54 144.47,510.48 141.93,512.36 139.40,514.18 136.86,515.93 134.33,517.62 131.79,519.23 129.26,520.77 126.72,522.24 124.19,523.64 121.65,524.97 119.12,526.22 116.58,527.41 114.04,528.54 111.51,529.60 108.97,530.59 106.44,531.53 103.90,532.41 101.37,533.24 98.83,534.01 96.30,534.73 93.76,535.41 91.23,536.04 88.69,536.63 86.16,537.18 83.62,537.69 81.09,538.17 78.55,538.62 76.01,539.03 73.48,539.42 70.94,539.78 68.41,540.11 65.87,540.42 63.34,540.70 60.80,540.97 58.27,541.22 55.73,541.45 53.20,541.66" fill="#6aaed6" fill-opacity="0.2"/>
<polyline points="53.20,445.85 55.73,445.24 58.27,444.62 60.80,444.00 63.34,443.37 65.87,442.75 68.41,442.13 70.94,441.51 73.48,440.89 76.01,440.26 78.55,439.64 81.09,439.02 83.62,438.40 86.16,437.77 88.69,437.15 91.23,436.52 93.76,435.90 96.30,435.28 98.83,434.65 101.37,434.03 103.90,433.41 106.44,432.78 108.97,432.16 111.51,431.54 114.04,430.92 116.58,430.30 119.12,429.67 121.65,429.05 124.19,428.43 126.72,427.81 129.26,427.19 131.79,426.58 134.33,425.96 136.86,425.34 139.40,424.72 141.93,424.11 144.47,423.49 147.00,422.88 149.54,422.27 152.07,421.65 154.61,421.04 157.15,420.43 159.68,419.82 162.22,419.21 164.75,418.61 167.29,418.00 169.82,417.40 172.36,416.79 174.89,416.19 177.43,415.59 179.96,414.99 182.50,414.39 185.03,413.80 187.57,413.20 190.10,412.61 192.64,412.01 195.18,411.42 197.71,410.83 200.25,410.25 202.78,409.66 205.32,409.08 207.85,408.49 210.39,407.91 212.92,407.33 215.46,406.76 217.99,406.18 220.53,405.61 223.06,405.04 225.60,404.47 228.13,403.90 230.67,403.33 233.21,402.77 235.74,402.21 238.28,401.65 240.81,401.09 243.35,400.54 245.88,399.98 248.42,399.43 250.95,398.88 253.49,398.33" fill="none" stroke="#2d6590" stroke-width="1.1"/>
<polyline points="53.20,507.47 55.73,506.50 58.27,505.51 60.80,504.49 63.34,503.46 65.87,502.40 68.41,501.32 70.94,500.23 73.48,499.11 76.01,497.97 78.55,496.81 81.09,495.63 83.62,494.43 86.16,493.21 88.69,491.97 91.23,490.71 93.76,489.43 96.30,488.12 98.83,486.80 101.37,485.46 103.90,484.10 106.44,482.72 108.97,481.32 111.51,479.90 114.04,478.47 116.58,477.01 119.12,475.54 121.65,474.06 124.19,472.55 126.72,471.03 129.26,469.50 131.79,467.95 134.33,466.38 136.86,464.80 139.40,463.21 141.93,461.61 144.47,459.99 147.00,458.37 149.54,456.73 152.07,455.08 154.61,453.42 157.15,451.76 159.68,450.09 162.22,448.41 164.75,446.72 167.29,445.03 169.82,443.34 172.36,441.64 174.89,439.94 177.43,438.24 179.96,436.54 182.50,434.84 185.03,433.13 187.57,431.43 190.10,429.74 192.64,428.04 195.18,426.35 197.71,424.67 200.25,422.99 202.78,421.31 205.32,419.65 207.85,417.99 210.39,416.34 212.92,414.70 215.46,413.08 217.99,411.46 220.53,409.85 223.06,408.26 225.60,406.68 228.13,405.11 230.67,403.56 233.21,402.03 235.74,400.50 238.28,399.00 240.81,397.51 243.35,396.04 245.88,394.58 248.42,393.14 250.95,391.73 253.49,390.33" fill="none" stroke="#4a84ae" stroke-width="1.1" stroke-dasharray="3,1.5"/>
<polyline points="53.20,533.72 55.73,533.19 58.27,532.64 60.80,532.06 63.34,531.45 65.87,530.82 68.41,530.16 70.94,529.47 73.48,528.75 76.01,527.99 78.55,527.21 81.09,526.38 83.62,525.52 86.16,524.63 88.69,523.69 91.23,522.72 93.76,521.71 96.30,520.65 98.83,519.55 101.37,518.41 103.90,517.22 106.44,515.99 108.97,514.70 111.51,513.37 114.04,511.99 116.58,510.56 119.12,509.08 121.65,507.55 124.19,505.96 126.72,504.32 129.26,502.63 131.79,500.88 134.33,499.08 136.86,497.23 139.40,495.32 141.93,493.35 144.47,491.34 147.00,489.27 149.54,487.14 152.07,484.97 154.61,482.74 157.15,480.47 159.68,478.14 162.22,475.77 164.75,473.36 167.29,470.90 169.82,468.41 172.36,465.87 174.89,463.30 177.43,460.70 179.96,458.06 182.50,455.40 185.03,452.72 187.57,450.01 190.10,447.29 192.64,444.55 195.18,441.81 197.71,439.05 200.25,436.29 202.78,433.53 205.32,430.78 207.85,428.03 210.39,425.30 212.92,422.58 215.46,419.87 217.99,417.19 220.53,414.53 223.06,411.90 225.60,409.30 228.13,406.74 230.67,404.21 233.21,401.71 235.74,399.26 238.28,396.85 240.81,394.49 243.35,392.17 245.88,389.90 248.42,387.68 250.95,385.51 253.49,383.40" fill="none" stroke="#62a3cc" stroke-width="1.1" stroke-dasharray="1.1,2"/>
<text x="38.8" y="546.80" text-anchor="end" font-size="5.6" fill="#5a5a5a" font-family="Liberation Sans, sans-serif">0.00</text>
<text x="38.8" y="492.87" text-anchor="end" font-size="5.6" fill="#5a5a5a" font-family="Liberation Sans, sans-serif">0.25</text>
<text x="38.8" y="438.95" text-anchor="end" font-size="5.6" fill="#5a5a5a" font-family="Liberation Sans, sans-serif">0.50</text>
<text x="38.8" y="385.02" text-anchor="end" font-size="5.6" fill="#5a5a5a" font-family="Liberation Sans, sans-serif">0.75</text>
<text x="44.30" y="561" text-anchor="middle" font-size="5.5" fill="#5a5a5a" font-family="Liberation Sans, sans-serif">-4</text>
<text x="106.30" y="561" text-anchor="middle" font-size="5.5" fill="#5a5a5a" font-family="Liberation Sans, sans-serif">-2</text>
<text x="168.30" y="561" text-anchor="middle" font-size="5.5" fill="#5a5a5a" font-family="Liberation Sans, sans-serif">0</text>
<text x="230.30" y="561" text-anchor="middle" font-size="5.5" fill="#5a5a5a" font-family="Liberation Sans, sans-serif">2</text>
<text x="153.8" y="570.7" text-anchor="middle" font-size="6.3" font-weight="bold" fill="#243a52" font-family="Liberation Sans, sans-serif">TSP-2</text>
<text transform="translate(23.2,446) rotate(-90)" text-anchor="middle" font-size="6.45" font-weight="bold" fill="#243a52" font-family="Liberation Sans, sans-serif">SA History (predicted probabilities)</text>
<text x="0" y="346.6" font-size="8.9" font-weight="bold" fill="#111" font-family="Liberation Sans, sans-serif">(b)</text>
<text x="275.8" y="430.8" font-size="6.6" font-weight="bold" fill="#243a52" font-family="Liberation Sans, sans-serif">CTQ score</text>
<line x1="275.2" y1="442.3" x2="296.2" y2="442.3" stroke="#2c6496" stroke-width="1.1"/>
<text x="304.2" y="444.20" font-size="5.4" fill="#5a5a5a" font-family="Liberation Sans, sans-serif">+ 1 SD (69)</text>
<line x1="275.2" y1="453.2" x2="296.2" y2="453.2" stroke="#4a88b8" stroke-width="1.1" stroke-dasharray="3,1.8"/>
<text x="304.2" y="455.10" font-size="5.4" fill="#5a5a5a" font-family="Liberation Sans, sans-serif">Mean (51)</text>
<line x1="275.2" y1="464.5" x2="296.2" y2="464.5" stroke="#6aaed6" stroke-width="1.1" stroke-dasharray="1,2.4"/>
<text x="304.2" y="466.40" font-size="5.4" fill="#5a5a5a" font-family="Liberation Sans, sans-serif">- 1 SD (32)</text>
</svg></body></html>
